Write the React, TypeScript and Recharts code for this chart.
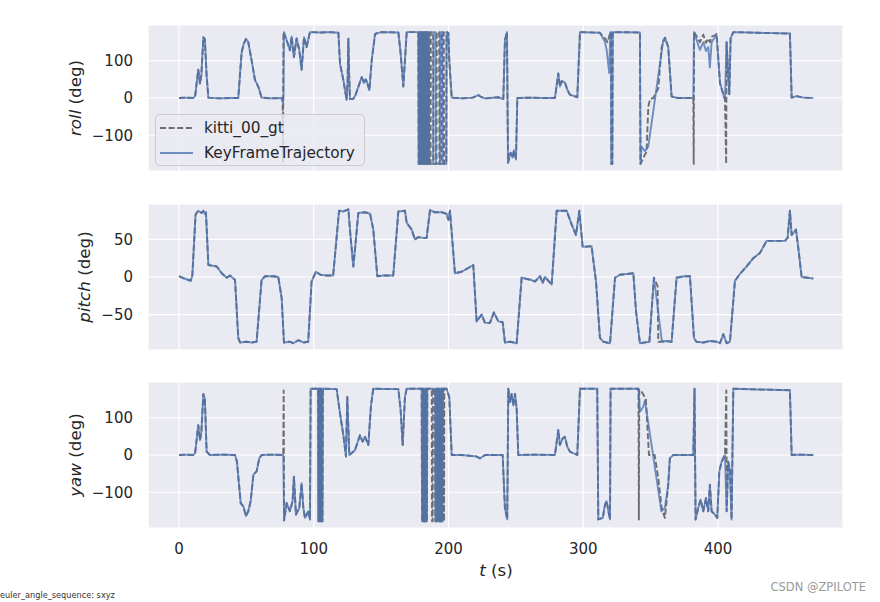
import { LineChart, Line, XAxis, YAxis, CartesianGrid, Legend, Label } from 'recharts'

// time axis (s)
const T_DOMAIN: [number, number] = [-23, 492.8]
const T_TICKS = [0, 100, 200, 300, 400]

// ---------- roll (deg) ----------
const rollCommonA: [number, number][] = [
  [0, 0], [5, 1], [10.6, 0], [12, 6], [14.3, 76], [15.6, 39], [16.6, 62], [18.1, 163], [19.2, 158], [20.5, 60],
  [21.8, 1], [30, -1], [38, 0], [44, 0], [46.5, 123], [48, 145], [49.7, 159], [51.4, 150], [53.9, 101],
  [56.4, 48], [57.6, 40], [58.9, 30], [61.3, 1], [68, -1], [76.2, 0],
]
const rollGtB: [number, number][] = [[76.9, 0], [77.2, -174], [77.5, 177], [79.9, 155]]
const rollEstB: [number, number][] = [[77.2, -12], [77.6, 10], [77.9, 177], [79.9, 155]]
const rollCommonC: [number, number][] = [
  [82.3, 128], [83.6, 165], [85.3, 110], [87.3, 160], [89.3, 128], [91, 76], [92.8, 163], [94.7, 137],
  [97.2, 177], [105, 176], [112, 177], [118.3, 175], [119.5, 92], [122, 48], [124.4, -5], [125.1, 40],
  [125.7, 159], [126.3, 60], [126.9, -3], [129.4, -2], [131, 8], [133.1, 30], [135.6, 56], [137.3, 40],
  [138.5, 50], [139.3, 45], [141.3, 21], [143, 100], [145.5, 172], [150, 177], [162.8, 176], [164.5, 120],
  [166.5, 31], [167.5, 90], [169, 177], [177.6, 177],
  [177.9, -177], [178.2, 177], [178.5, -177], [178.8, 177], [179.1, -177], [179.4, 177], [179.7, -177],
  [180, 177], [180.3, -177], [180.6, 177], [180.9, -177], [181.2, 177], [181.5, -177], [181.8, 177],
  [182.1, -177], [182.4, 177], [182.7, -177], [183, 177], [183.3, -177], [183.6, 177], [183.9, -177],
  [184.2, 177], [184.5, -177], [184.8, 177], [185.1, -177], [185.4, 177], [185.7, -177],
]
const rollGtD: [number, number][] = [
  [186.7, -177], [186.9, 177], [188.7, 177], [188.9, -177], [191.1, -177], [191.3, 177], [193.1, 177],
  [193.3, -177], [194.8, -177], [195, 177], [196.5, 177], [196.7, -177], [198.4, -177], [198.6, 177],
]
const rollEstD: [number, number][] = [
  [188.6, -177], [188.8, 177], [190.4, 177], [190.6, -177], [193.6, -177], [193.8, 177], [195.4, 177],
  [195.6, -177], [198.4, -177], [198.6, 177],
]
const rollCommonE: [number, number][] = [
  [199.9, 175], [200.6, 100], [202.4, 1], [210, -1], [218, 1], [222.2, 8], [224, 3], [227.1, -1], [230.8, 0],
  [236.9, 2], [240.7, -3], [241.9, 155], [243.4, 177], [244.2, -174], [246.1, -147], [247.6, -160],
  [248.6, -140], [250.1, -165], [251.1, 0], [260, 1], [270, 0], [279, 0], [281.5, 66], [282.7, 31], [284, 45],
  [286.4, 42], [288.2, 22], [290.1, 9], [295.6, 2], [297.6, 177], [312.4, 175],
]
const rollGtF: [number, number][] = [
  [316.1, 160], [318, 150], [319.8, 172], [320.6, 177], [320.9, -177], [321.6, -177], [321.9, 177],
  [342.1, 176], [342.5, -177], [345.8, -152], [347, -145], [348.3, -23], [349.6, -3], [352, 0], [355.7, 26],
  [358.2, 137], [360.7, 162],
]
const rollEstF: [number, number][] = [
  [316.1, 151], [317.4, 129], [319.3, 67], [320.1, 177], [320.6, 177], [320.9, -177], [321.6, -177],
  [321.9, 177], [342.1, 176], [342.5, -177], [343.3, -130], [345.8, -143], [348.3, -130], [359.4, 155],
  [360.7, 162],
]
const rollCommonG: [number, number][] = [[363.1, 137], [365.6, 4], [370, 0], [381.7, 0]]
const rollGtH: [number, number][] = [
  [382, -177], [382.3, 177], [384.2, 165], [386.6, 150], [389.1, 170], [391.1, 148], [392.8, 160], [394, 150],
  [395.3, 165], [397.8, 168], [399, 172], [401.5, 40], [405.2, -4], [406.1, -177], [406.4, 150], [408.4, 10],
  [409.4, 160], [411.4, 177],
]
const rollEstH: [number, number][] = [
  [382.2, 177], [384.2, 155], [386.6, 129], [389.1, 150], [391.1, 126], [392.8, 137], [394, 82], [395.3, 150],
  [397.8, 163], [399, 168], [401.5, 40], [405.2, -4], [406.4, 150], [408.4, 10], [409.4, 160], [411.4, 177],
]
const rollCommonI: [number, number][] = [[430, 175], [453.4, 173], [454.7, 1], [458.4, 5], [463.4, 1], [470.7, 0]]

// ---------- pitch (deg) ----------
const pitchCommonA: [number, number][] = [
  [0, 1], [4, -2], [8.7, -5], [9.9, 2], [12.3, 83], [14.3, 88], [16.8, 85], [18.1, 88], [19, 84], [20, 86],
  [21.8, 16], [25, 15], [28, 14], [31.7, 5], [35.4, -1], [37.9, 2], [41.6, -4], [44, -81], [45.3, -87],
  [50, -86], [54, -87], [57.6, -86], [61.3, -4], [63.8, 1], [70, 1], [73.7, 0], [76.2, -28], [77.9, -87],
  [82, -86], [84.8, -88], [88.5, -84], [92.2, -87], [95.9, -86], [98.4, -6], [101.6, 7], [105, 3],
  [109.5, 2], [114.4, 2], [118.8, 88], [121.8, 87], [125.7, 90], [127.4, 52], [129.4, 14], [131.4, 52],
  [133.1, 85], [138, 86], [141.8, 84], [144.2, 63], [147.2, 1], [152, 2], [159, 2], [162.8, 87], [167.7, 88],
  [169, 72], [172.7, 63], [175.1, 50], [177.6, 53], [181, 52], [183.8, 52], [186.3, 89], [190, 86],
  [195, 86], [198.6, 84], [199.9, 76], [201.1, 88], [204.8, 5], [209.8, 7], [214.7, 12], [218.4, 16],
  [220.9, -59], [224.6, -50], [227.1, -61], [230.8, -61], [233.7, -47], [237, -59], [240.2, -60],
  [241.9, -87], [246, -86], [250.6, -88], [254.3, -1], [261.7, -4], [264.2, -6], [268, 1], [269.9, -8],
  [271.6, 0], [276.6, -10], [280.3, 88], [287.7, 88], [291.4, 70], [294.6, 56], [297.1, 88], [299.6, 40],
  [306.2, 41], [309.5, -6], [312.4, -81], [314.9, -86], [319.9, -88], [323.6, -1], [327.3, 3], [337.2, 5],
  [339.2, -46], [342.1, -88], [349.1, -86], [352.5, -1],
]
const pitchGtB: [number, number][] = [[355.2, -12], [355.7, -86], [358.2, -86]]
const pitchEstB: [number, number][] = [[358.4, -86]]
const pitchCommonC: [number, number][] = [
  [361, -85], [365.6, -86], [369.3, -1], [375, 1], [379.2, 1], [382.2, -81], [384, -86], [389.1, -87],
  [394, -85], [399, -86], [401.5, -88], [403.9, -76], [406.4, -88], [408.9, -86], [412.6, -5], [416.3, 4],
  [421.3, 14], [426.2, 25], [431.2, 32], [436.1, 48], [438.6, 48], [449.7, 48], [451.7, 52], [453.4, 88],
  [454.7, 56], [457.9, 63], [459.6, 39], [462.1, 0], [470.7, -2],
]

// ---------- yaw (deg) ----------
const yawCommonA: [number, number][] = [
  [0, 0], [5, 1], [10.6, 0], [12, 6], [14.3, 80], [15.6, 40], [16.6, 62], [18.1, 164], [19.2, 151], [20.5, 9],
  [23, 0], [32, 1], [41.6, 0], [43, -18], [45.8, -129], [47.8, -138], [49.7, -164], [51.4, -151],
  [53.2, -124], [55.2, -53], [57.6, -44], [59.6, -9], [61.3, 0], [70, 1], [77.4, 0],
]
const yawGtB: [number, number][] = [[77.7, 173], [78, -176]]
const yawEstB: [number, number][] = [[78, -176]]
const yawCommonC: [number, number][] = [
  [79.9, -129], [82.3, -151], [84.3, -124], [85.3, -58], [86.8, -160], [89.3, -142], [91, -76], [92.3, -142],
  [93.5, -169], [96, -151], [97.2, -173], [97.7, 178], [103.2, 178],
  [103.5, -178], [103.8, 178], [104.1, -178], [104.4, 178], [104.7, -178], [105, 178], [105.3, -178],
  [105.6, 178], [105.9, -178], [106.2, 178], [106.5, -178], [106.8, 178],
  [117, 177], [119, 124], [122, 53], [123.9, -4], [124.9, 156], [126.4, 0], [130.6, 13], [134.3, 53],
  [136.3, 36], [138, 49], [140.5, 27], [142.5, 133], [144.2, 178], [162.8, 177], [164.5, 120], [166, 27],
  [167.7, 156], [169, 178], [180.1, 178],
  [180.4, -178], [180.7, 178], [181, -178], [181.3, 178], [181.6, -178], [181.9, 178], [182.2, -178],
  [182.5, 178], [182.8, -178], [183.1, 178], [183.4, -178], [183.7, 178], [184, -178], [184.3, 178],
]
const yawGtD: [number, number][] = [[187.6, 178], [187.8, -178], [188.3, -178], [188.5, 178]]
const yawCommonE: [number, number][] = [
  [190, 178], [190.3, -178], [190.6, 178], [190.9, -178], [191.2, 178], [191.5, -178], [191.8, 178],
  [192.1, -178], [192.4, 178], [192.7, -178], [193, 178], [193.3, -178], [193.6, 178], [193.9, -178],
  [194.2, 178], [194.5, -178], [194.8, 178], [195.1, -178], [195.4, 178], [195.7, -178], [196, 178],
]
const yawGtF: [number, number][] = [[196.5, 178], [196.7, -178], [196.9, 178]]
const yawCommonG: [number, number][] = [
  [198.6, 178], [200.6, 155], [202.4, 0], [210, 0], [220.9, -4], [223.4, -9], [227.1, 0], [240.2, 0],
  [241.9, -142], [243.6, -173], [244.4, 178], [245.6, 142], [246.9, 164], [248.1, 133], [249.4, 164],
  [250.6, 124], [251.8, 0], [265, 1], [279, 0], [281.5, 67], [282.7, 27], [284.7, 44], [286.4, 49],
  [288.2, 22], [290.1, 9], [295.6, 0], [297.6, 178], [310.4, 178], [311.2, -173], [314.5, -169],
  [316.2, -133], [317.4, -124], [318.7, -151], [319.9, -173], [320.3, 178], [339.6, 178], [341, 178],
]
const yawGtH: [number, number][] = [
  [341.3, -173], [341.6, 175], [343, 172], [345, 160], [346.5, 150], [348.8, 0], [353, 0], [355.7, -62],
  [358.2, -142], [360.6, -169],
]
const yawEstH: [number, number][] = [[342.1, 116], [344.5, 129], [345.8, 147], [358, -151], [360.6, -142]]
const yawCommonI: [number, number][] = [
  [363.1, -80], [364.3, -9], [366.8, 0], [381.7, 0], [382.6, 178], [383.4, -173], [385.4, -142],
  [387.1, -120], [389.1, -151], [391.1, -116], [392.8, -151], [394, -80], [395.3, -151], [397.8, -160],
  [399.5, -169], [401, -44], [402.7, -18], [405.2, 0],
]
const yawGtJ: [number, number][] = [[406.2, 173], [406.5, -151], [407.6, -18], [408.9, -40], [410.1, -173], [411.4, 178]]
const yawEstJ: [number, number][] = [[406.4, -151], [407.6, -18], [408.9, -40], [410.1, -173], [411.4, 178]]
const yawCommonK: [number, number][] = [[430, 176], [453.4, 174], [454.7, 0], [460, 1], [470.7, 0]]

const rows = (...parts: [number, number][][]) => parts.flat().map(([t, v]) => ({ t, v }))

const rollGt = rows(rollCommonA, rollGtB, rollCommonC, rollGtD, rollCommonE, rollGtF, rollCommonG, rollGtH, rollCommonI)
const rollEst = rows(rollCommonA, rollEstB, rollCommonC, rollEstD, rollCommonE, rollEstF, rollCommonG, rollEstH, rollCommonI)
const pitchGt = rows(pitchCommonA, pitchGtB, pitchCommonC)
const pitchEst = rows(pitchCommonA, pitchEstB, pitchCommonC)
const yawGt = rows(yawCommonA, yawGtB, yawCommonC, yawGtD, yawCommonE, yawGtF, yawCommonG, yawGtH, yawCommonI, yawGtJ, yawCommonK)
const yawEst = rows(yawCommonA, yawEstB, yawCommonC, yawCommonE, yawCommonG, yawEstH, yawCommonI, yawEstJ, yawCommonK)

const series = [
  { name: 'kitti_00_gt', color: '#5f5f5f', dash: '6 2.6', opacity: 0.9 },
  { name: 'KeyFrameTrajectory', color: '#4C72B0', dash: undefined, opacity: 0.78 },
]

const FONT = 'DejaVu Sans'
const TEXT = '#262626'
const minus = (v: number) => String(v).replace('-', '\u2212')

// upper panels share the time ticks (for the grid) but print no labels
const NoTick = () => <g />

function LegendBox() {
  return (
    <div style={{
      background: 'rgba(234,234,242,0.8)', border: '1px solid #cccccc', borderRadius: 4,
      padding: '0 7px 0 4px', fontFamily: FONT, fontSize: 15.3, color: TEXT, width: 197,
    }}>
      {series.map(s => (
        <div key={s.name} style={{ display: 'flex', alignItems: 'center', height: 25 }}>
          <svg width={33} height={6} style={{ marginRight: 11 }}>
            <line x1={0} y1={3} x2={33} y2={3} stroke={s.color} strokeOpacity={s.opacity}
              strokeWidth={1.9} strokeDasharray={s.dash} />
          </svg>
          <span style={{ whiteSpace: 'nowrap' }}>{s.name}</span>
        </div>
      ))}
    </div>
  )
}

function YTitle({ viewBox, word, x }: any) {
  const vb = viewBox || { y: 0, height: 0 }
  const cy = vb.y + vb.height / 2
  return (
    <text x={x} y={cy} transform={`rotate(-90, ${x}, ${cy})`} textAnchor="middle"
      fontFamily={FONT} fontSize={16.7} fill={TEXT}>
      <tspan fontStyle="italic">{word}</tspan> (deg)
    </text>
  )
}

function XTitle() {
  return (
    <text x={496} y={216} textAnchor="middle" fontFamily={FONT} fontSize={16.7} fill={TEXT}>
      <tspan fontStyle="italic">t</tspan> (s)
    </text>
  )
}

function Panel({ top, height, mTop, mBottom, gt, est, domain, ticks, word, labelX, bottom, legend }: any) {
  return (
    <div style={{ position: 'absolute', left: 0, top }}>
      <LineChart width={880} height={height} margin={{ top: mTop, right: 37, bottom: mBottom, left: 0 }}>
        <CartesianGrid fill="#EAEAF2" fillOpacity={1} stroke="#ffffff" strokeWidth={1.2} />
        <XAxis type="number" dataKey="t" domain={T_DOMAIN} ticks={T_TICKS} allowDataOverflow
          axisLine={false} tickLine={false} tickSize={0} tickMargin={15} height={bottom ? 74 : 0}
          tick={bottom ? { fill: TEXT, fontSize: 15, fontFamily: FONT } : NoTick}>
          {bottom && <Label content={() => <XTitle />} />}
        </XAxis>
        <YAxis type="number" domain={domain} ticks={ticks} allowDataOverflow width={148}
          axisLine={false} tickLine={false} tickSize={0} tickMargin={15} tickFormatter={minus}
          tick={{ fill: TEXT, fontSize: 15, fontFamily: FONT }}>
          <Label content={(p: any) => <YTitle {...p} word={word} x={labelX} />} />
        </YAxis>
        {[gt, est].map((d, i) => (
          <Line key={series[i].name} name={series[i].name} data={d} dataKey="v" type="linear" dot={false}
            activeDot={false} stroke={series[i].color} strokeOpacity={series[i].opacity} strokeWidth={1.9}
            strokeDasharray={series[i].dash} strokeLinejoin="round" isAnimationActive={false} />
        ))}
        {legend && (
          <Legend layout="vertical" align="center" verticalAlign="middle" content={() => <LegendBox />}
            wrapperStyle={{ left: 155, top: 114, width: 'auto', height: 'auto' }} />
        )}
      </LineChart>
    </div>
  )
}

export default function App() {
  return (
    <div style={{ position: 'absolute', left: 0, top: 0, width: 880, height: 602, background: '#ffffff', overflow: 'hidden' }}>
      <Panel top={0} height={180} mTop={25} mBottom={9} gt={rollGt} est={rollEst}
        domain={[-196, 196]} ticks={[-100, 0, 100]} word="roll" labelX={81} legend />
      <Panel top={180} height={180} mTop={24} mBottom={10} gt={pitchGt} est={pitchEst}
        domain={[-97, 97]} ticks={[-50, 0, 50]} word="pitch" labelX={89.5} />
      <Panel top={360} height={242} mTop={22} mBottom={0} gt={yawGt} est={yawEst}
        domain={[-196, 196]} ticks={[-100, 0, 100]} word="yaw" labelX={81} bottom />
      <div style={{ position: 'absolute', left: 0, top: 590, fontFamily: FONT, fontSize: 8.2, color: '#333', whiteSpace: 'nowrap' }}>
        euler_angle_sequence: sxyz
      </div>
      <div style={{ position: 'absolute', right: 14, top: 580, fontFamily: FONT, fontSize: 11.5, color: '#9a9a9a', whiteSpace: 'nowrap' }}>
        CSDN @ZPILOTE
      </div>
    </div>
  )
}
